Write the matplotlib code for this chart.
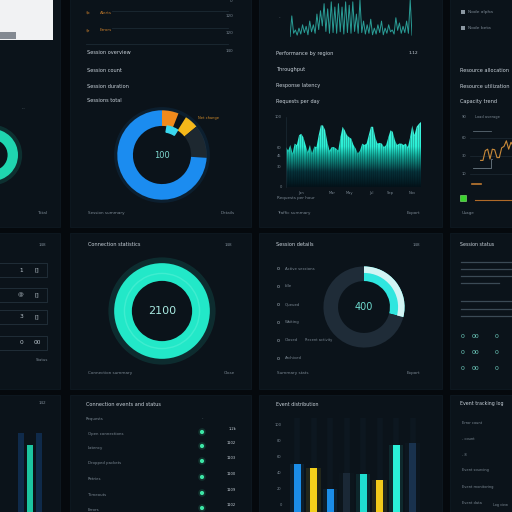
import numpy as np
import matplotlib
matplotlib.use("Agg")
import matplotlib.pyplot as plt
from matplotlib.patches import Rectangle, Wedge
from matplotlib.colors import LinearSegmentedColormap

W = H = 512
BG = "#05090d"
PANEL = "#0b131a"
TXT = "#c9d2da"
DIM = "#7b8893"

# ---- data ----
spike_vals = [0, 57, 10, 19, 5, 24, 8, 33, 12, 29, 6, 43, 14, 33, 10, 62, 20, 71, 30,
              90, 15, 76, 10, 95, 12, 81, 10, 90, 14, 81, 8, 95, 12, 86, 10, 95, 15,
              62, 10, 100, 12, 43, 8, 33, 10, 48, 6, 24, 8, 33, 12, 43, 6, 24, 10,
              33, 14, 19, 8, 52, 18, 38, 10, 29, 12, 43, 10, 100, 5]

area_vals = [57, 52, 60, 48, 62, 60, 74, 76, 71, 60, 50, 60, 48, 58, 57, 74, 88, 88,
             81, 64, 52, 57, 57, 55, 52, 71, 86, 81, 74, 71, 69, 60, 55, 48, 52, 62,
             60, 62, 74, 86, 86, 71, 62, 63, 62, 57, 60, 71, 81, 79, 67, 60, 62, 62,
             60, 62, 57, 71, 88, 74, 86, 90, 93]
area_yticks = [0, 30, 45, 57, 100]
area_xlabels = ["Jan", "Mar", "May", "Jul", "Sep", "Nov"]
area_xticks = [7, 21, 29, 39, 48, 58]

donut1_vals = [6, 3, 5, 12, 74]
donut1_colors = ["#f08a1c", "none", "#f5b81a", "#1d2830", "#1b8cf0"]
donut1_label = "100"

donut2_vals = [100]
donut2_label = "2100"

donut3_vals = [29, 71]
donut3_label = "400"

side_donut_vals = [100]

bar_labels = ["A", "B", "C", "D", "E", "F", "G", "H"]
bar_vals = [50, 45, 19, 39, 37, 30, 74, 76]
bar_colors = ["#1b8de8", "#f2cf1b", "#1b8de8", "#1a2836", "#1fded0", "#f2c91b",
              "#2af0d8", "#19324e"]
bar_yticks = [0, 20, 40, 60, 80, 100]

mini_bar_vals = [86, 73, 86]
mini_bar_colors = ["#0f2a4a", "#1cc4a0", "#0f2a4a"]

orange_vals = [20, 20, 55, 60, 25, 60, 58, 30, 30, 65, 70, 90, 60, 85, 70]


def px_axes(fig, x, y, w, h, **kw):
    return fig.add_axes([x / W, 1 - (y + h) / H, w / W, h / H], **kw)


fig = plt.figure(figsize=(5.12, 5.12), dpi=100, facecolor=BG)
cv = px_axes(fig, 0, 0, W, H)
cv.set_xlim(0, W); cv.set_ylim(H, 0); cv.axis("off")
cv.set_facecolor(BG)


def t(x, y, s, size=3.6, color=TXT, ha="left", **kw):
    cv.text(x, y, s, fontsize=size, color=color, ha=ha, va="center", **kw)


def hline(x0, x1, y, color="#1c2a34", lw=0.6):
    cv.plot([x0, x1], [y, y], color=color, lw=lw)


# panels
panels = [(-5, -5, 65, 232), (70, -5, 181, 232), (259, -5, 183, 232), (450, -5, 70, 232),
          (-5, 233, 65, 156), (70, 233, 181, 156), (259, 233, 183, 156), (450, 233, 70, 156),
          (-5, 395, 65, 125), (70, 395, 181, 125), (259, 395, 183, 125), (450, 395, 70, 125)]
for (x, y, w, h) in panels:
    cv.add_patch(Rectangle((x, y), w, h, facecolor=PANEL, edgecolor="#0f1922", lw=0.6))

# ---------- top-left partial ----------
cv.add_patch(Rectangle((-2, -2), 55, 42, facecolor="#f1f2f3", edgecolor="none"))
cv.add_patch(Rectangle((0, 32), 16, 7, facecolor="#3a4450", edgecolor="none", alpha=0.6))
t(22, 108, "---", 2.5, DIM)
t(42, 213, "Total", 3.2, DIM, ha="center")

# ---------- top mid-left ----------
t(86, 13, "$c", 3, "#c27a2a")
t(100, 13, "Alerts", 3, "#c27a2a")
t(86, 30, "$r", 3, "#c27a2a")
t(100, 30, "Errors", 3, "#c27a2a")
hline(112, 228, 11); hline(112, 228, 28); hline(86, 228, 44)
t(232, 1, "0", 3, DIM, ha="right")
t(233, 16, "120", 3, DIM, ha="right")
t(233, 33, "120", 3, DIM, ha="right")
t(233, 51, "140", 3, DIM, ha="right")
for yy, s in [(53, "Session overview"), (70, "Session count"),
              (86, "Session duration"), (101, "Sessions total")]:
    t(87, yy, s, 3.6)
t(198, 118, "Net change", 2.6, "#d08a2a")
t(88, 213, "Session summary", 3.0, DIM)
t(235, 213, "Details", 3.0, DIM, ha="right")

# ---------- top center ----------
t(279, 17, "-", 3, DIM)
t(276, 53, "Performance by region", 3.6)
t(418, 53, "1.12", 3.2, TXT, ha="right")
t(276, 70, "Throughput", 3.6)
t(276, 86, "Response latency", 3.6)
t(276, 101, "Requests per day", 3.6)
t(277, 198, "Requests per hour", 3.0, DIM)
t(277, 213, "Traffic summary", 3.0, DIM)
t(420, 213, "Export", 3.0, DIM, ha="right")

# ---------- top right ----------
for yy, s in [(12, "Node alpha"), (28, "Node beta")]:
    cv.add_patch(Rectangle((461, yy - 2), 3.5, 3.5, facecolor="#8c98a2", edgecolor="none"))
    t(468, yy, s, 3.2, DIM)
t(460, 70, "Resource allocation", 3.6)
t(460, 86, "Resource utilization", 3.6)
t(460, 101, "Capacity trend", 3.6)
for yy, s in [(117, "90"), (138, "60"), (156, "30"), (174, "10")]:
    t(462, yy, s, 2.6, DIM)
    if yy > 120:
        hline(470, 512, yy, "#1e2b35", 0.5)
t(475, 117, "Load average", 2.6, DIM)
hline(473, 491, 131, "#5c6a74", 0.6)
cv.plot([473, 491, 491, 492], [168, 168, 159, 159], color="#6c7a84", lw=0.6)
hline(472, 481, 184, "#c07a30", 1.2)
hline(475, 512, 200, "#b06a28", 0.8)
cv.add_patch(Rectangle((460, 195), 6, 6, facecolor="#3bd42e", edgecolor="#8af07a", lw=0.4))
t(462, 213, "Usage", 3.0, DIM)

oax = px_axes(fig, 479, 138, 36, 28)
oax.plot(np.arange(len(orange_vals)), orange_vals, color="#c98a3a", lw=0.8)
oax.set_ylim(0, 100); oax.axis("off")

# ---------- middle-left partial ----------
t(42, 245, "148", 3.0, DIM, ha="center")
for yy, a, b in [(270, "1", "[]"), (295, "@", "[]"), (317, "3", "[]"), (343, "0", "00")]:
    cv.add_patch(Rectangle((-2, yy - 7), 49, 14, facecolor="none", edgecolor="#24323c", lw=0.6))
    t(21, yy, a, 4.2, "#b9c4cc", ha="center")
    t(37, yy, b, 4.2, "#b9c4cc", ha="center")
t(42, 360, "Status", 2.8, DIM, ha="center")

# ---------- middle mid-left ----------
t(88, 245, "Connection statistics", 3.6)
t(232, 245, "148", 3.0, DIM, ha="right")
t(88, 373, "Connection summary", 3.0, DIM)
t(235, 373, "Close", 3.0, DIM, ha="right")

# ---------- middle center ----------
t(276, 245, "Session details", 3.6)
t(420, 245, "148", 3.0, DIM, ha="right")
for yy, s in [(269, "Active sessions"), (286, "Idle"), (305, "Queued"),
              (322, "Waiting"), (340, "Closed"), (358, "Archived")]:
    t(277, yy, "o", 3.6, "#9aa6b0")
    t(285, yy, s, 2.8, DIM)
t(305, 340, "Recent activity", 2.6, DIM)
t(277, 373, "Summary stats", 3.0, DIM)
t(420, 373, "Export", 3.0, DIM, ha="right")

# ---------- middle right ----------
t(460, 245, "Session status", 3.4)
for yy, x1 in [(262, 512), (269, 512), (276, 512), (283, 499), (301, 512), (309, 512), (316, 512)]:
    hline(461, x1, yy, "#3b4a55", 0.9)
for yy in [337, 353, 369]:
    for xx, s in [(463, "0"), (475, "00"), (497, "0")]:
        t(xx, yy, s, 4.4, "#6fcfc0", ha="center")

# ---------- bottom left partial ----------
t(42, 403, "142", 3.0, DIM, ha="center")
mb = px_axes(fig, 16, 420, 28, 92)
mb.bar(np.arange(len(mini_bar_vals)), mini_bar_vals, color=mini_bar_colors, width=0.7)
mb.set_ylim(0, 100); mb.set_xlim(-0.6, 2.6); mb.axis("off")

# ---------- bottom mid-left ----------
t(86, 404, "Connection events and status", 3.6)
t(86, 419, "Requests", 2.8, DIM)
t(202, 418, "-", 2.6, DIM, ha="center")
rows = [(434, "Open connections", "1.2k"), (448, "Latency", "1102"),
        (463, "Dropped packets", "1103"), (479, "Retries", "1100"),
        (495, "Timeouts", "1109"), (510, "Errors", "1102")]
for yy, s, v in rows:
    t(88, yy, s, 2.8, DIM)
    cv.scatter([202], [yy - 2], s=9, color="#3de6a6", zorder=3, edgecolors="none")
    cv.scatter([202], [yy - 2], s=30, color="#3de6a6", alpha=0.15, zorder=2, edgecolors="none")
    t(236, yy - 5, v, 2.6, TXT, ha="right")

# ---------- bottom center ----------
t(276, 404, "Event distribution", 3.4)

# ---------- bottom right ----------
t(460, 404, "Event tracking log", 3.4)
for yy, s in [(423, "Error count"), (439, "- count"), (455, "- 8"),
              (470, "Event sourcing"), (487, "Event monitoring"), (503, "Event data")]:
    t(462, yy, s, 2.6, DIM)
t(493, 505, "Log view", 2.4, DIM)

# ---------- spike line (top center) ----------
sax = px_axes(fig, 290, 0, 122, 37)
sax.plot(np.arange(len(spike_vals)), spike_vals, color="#2a9d96", lw=0.7)
sax.set_ylim(0, 100); sax.set_xlim(0, len(spike_vals) - 1); sax.axis("off")

# ---------- area chart ----------
aax = px_axes(fig, 286, 117, 135, 70)
aax.set_facecolor("none")
n = len(area_vals)
xs = np.arange(n)
cmap = LinearSegmentedColormap.from_list(
    "teal", [(0, "#03121a"), (0.22, "#06323a"), (0.45, "#12a696"),
             (0.58, "#2af0d6"), (1, "#4cf8e2")])
grad = np.linspace(0, 1, 256).reshape(-1, 1)
im = aax.imshow(grad, extent=[0, n - 1, 0, 100], origin="lower", aspect="auto", cmap=cmap)
poly = aax.fill_between(xs, area_vals, 0, color="none")
im.set_clip_path(poly.get_paths()[0], transform=aax.transData)
aax.vlines(xs[1:-1], 0, area_vals[1:-1], color="#031318", lw=0.45, alpha=0.4)
aax.set_xlim(0, n - 1); aax.set_ylim(0, 100)
aax.set_yticks(area_yticks)
aax.set_yticklabels(["0", "30", "45", "60", "100"])
aax.set_xticks(area_xticks)
aax.set_xticklabels(area_xlabels)
aax.tick_params(colors=DIM, labelsize=2.6, length=0, pad=3)
for s in aax.spines.values():
    s.set_visible(False)
aax.spines["left"].set_visible(True)
aax.spines["left"].set_color("#1c2a34")
aax.spines["left"].set_linewidth(0.5)

# ---------- bar chart ----------
bax = px_axes(fig, 286, 418, 144, 94)
bax.set_facecolor("none")
bx = np.arange(len(bar_vals))
for xx in bx:
    bax.axvline(xx, color="#0d1720", lw=4, zorder=0)
bax.bar(bx, np.array(bar_vals) + 10, bottom=-10, width=0.42, color=bar_colors, zorder=2)
bax.bar(bx, np.array(bar_vals) + 10, bottom=-10, width=0.9, color=bar_colors, alpha=0.1, zorder=1)
bax.set_ylim(-10, 107.5)
bax.set_xlim(-0.67, -0.67 + 144 / 16.5)
bax.set_yticks(bar_yticks)
bax.set_xticks([])
bax.tick_params(colors=DIM, labelsize=2.6, length=0, pad=3)
for s in bax.spines.values():
    s.set_visible(False)


# ---------- donuts ----------
def donut_ax(cx, cy, r, pad=1.3):
    ax = px_axes(fig, cx - r * pad, cy - r * pad, 2 * r * pad, 2 * r * pad)
    ax.set_xlim(-pad, pad); ax.set_ylim(-pad, pad)
    ax.set_aspect("equal"); ax.axis("off")
    return ax


# side partial donut (top-left)
d0 = donut_ax(-8, 155, 25)
d0.pie(side_donut_vals, colors=["#1fd6b0"], radius=1.16, wedgeprops=dict(width=0.22, alpha=0.15))
d0.pie(side_donut_vals, colors=["#1fd6b0"], radius=1, wedgeprops=dict(width=0.4))

# donut 1
d1 = donut_ax(162, 155, 43)
d1.pie(donut1_vals, colors=donut1_colors, startangle=90, counterclock=False,
       radius=1, wedgeprops=dict(width=0.35, linewidth=0))
d1.pie([100], colors=["#1b8cf0"], radius=1.07, wedgeprops=dict(width=0.08, alpha=0.1))
d1.add_patch(Wedge((0, 0), 0.66, 58, 80, width=0.14, color="#3ad8f0"))
d1.text(0, 0, donut1_label, fontsize=6, color="#7fd8d0", ha="center", va="center")

# donut 2
d2 = donut_ax(162, 311, 46)
d2.pie(donut2_vals, colors=["#22e8c8"], radius=1.12, wedgeprops=dict(width=0.14, alpha=0.12))
d2.pie(donut2_vals, colors=["#22e8c8"], radius=1, wedgeprops=dict(width=0.37))
d2.pie(donut2_vals, colors=["#5cf2d8"], radius=0.8, wedgeprops=dict(width=0.03, alpha=0.5))
d2.text(0, 0, donut2_label, fontsize=8, color="#a8e8e0", ha="center", va="center")

# donut 3
d3 = donut_ax(364, 307, 39)
d3.pie(donut3_vals, colors=["#2fe6df", "#1f2c38"], startangle=90, counterclock=False,
       radius=1, wedgeprops=dict(width=0.36, linewidth=0))
d3.pie(donut3_vals, colors=["#d2f4f4", "none"], startangle=90, counterclock=False,
       radius=1, wedgeprops=dict(width=0.16, linewidth=0))
d3.text(0, 0, donut3_label, fontsize=7, color="#6fdcd0", ha="center", va="center")

fig.savefig("out.png", dpi=100, facecolor=BG)
